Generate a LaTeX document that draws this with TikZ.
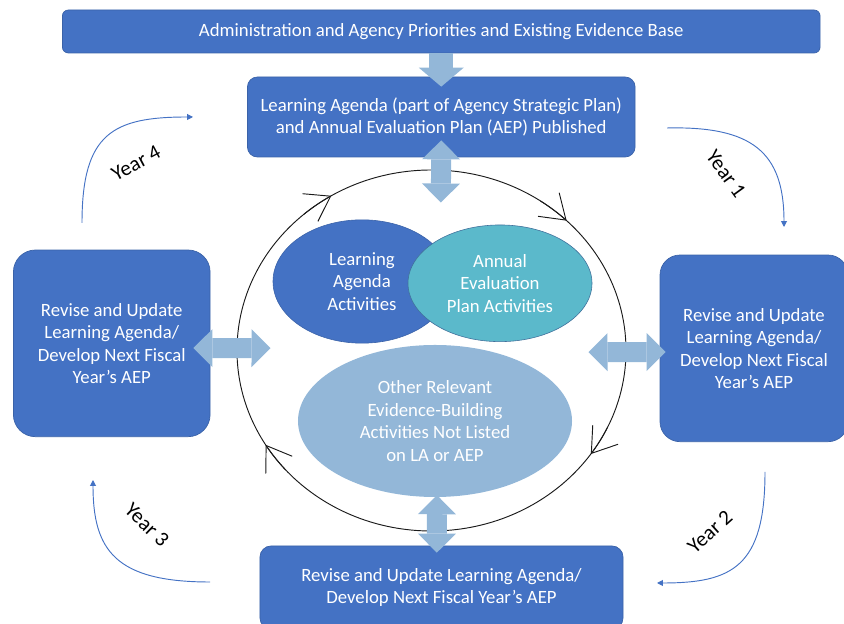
\documentclass[tikz,border=0pt]{standalone}
\usepackage{fontspec}
\setmainfont{Carlito}
\usetikzlibrary{arrows.meta, shapes.geometric}
\definecolor{planblue}{HTML}{4472C4}
\definecolor{edgeblue}{HTML}{3A62A8}
\definecolor{paleblue}{HTML}{93B7D8}
\definecolor{evalteal}{HTML}{5BB9CB}
\definecolor{tealedge}{HTML}{41719C}
\definecolor{ringgray}{HTML}{1A1A1A}

\begin{document}
\begin{tikzpicture}[
    x=0.03cm, y=0.03cm,
    font=\fontsize{16}{19.2}\selectfont,
    planbox/.style={
        draw=edgeblue, fill=planblue, text=white, line width=0.6pt,
        rounded corners=#1, align=center, inner sep=0pt,
    },
    planbox/.default=0.3cm,
    bubble/.style={
        ellipse, inner sep=0pt, align=center, text=white,
    },
    fatarr/.style={
        paleblue, line width=0.72cm,
        -{Triangle[length=0.57cm, width=1.35cm, line width=0pt]},
    },
    dblarr/.style={
        paleblue, line width=0.6cm,
        {Triangle[length=0.57cm, width=1.14cm, line width=0pt]}-{Triangle[length=0.57cm, width=1.14cm, line width=0pt]},
    },
    ringtip/.style={
        ringgray, line width=0.8pt,
        -{Straight Barb[length=0.7cm, width=0.95cm]},
    },
    yeararr/.style={planblue, line width=0.8pt, -{Triangle[length=5pt, width=5pt]}},
    yearlbl/.style={font=\fontsize{18}{20}\selectfont, text=black},
]
\useasboundingbox (0,0) rectangle (844,624);
\clip (0,0) rectangle (844,624);

% Activity cycle
\node[draw=ringgray, line width=0.8pt, ellipse, inner sep=0pt,
      minimum width=11.67cm, minimum height=10.83cm] (ring) at (431.5,273.5) {};
\foreach \t [evaluate=\t as \s using \t+10] in {121,46,-35,211.5}
    \draw[ringtip] ([shift={(\s:5.835cm and 5.415cm)}]ring.center)
        arc[start angle=\s, end angle=\t, x radius=5.835cm, y radius=5.415cm];

\node[bubble, fill=planblue, draw=edgeblue, line width=0.5pt,
      minimum width=5.34cm, minimum height=3.7cm] (la) at (362,342.5)
    {Learning\\Agenda\\Activities};
\node[bubble, fill=evalteal, draw=tealedge, line width=0.5pt,
      minimum width=5.52cm, minimum height=3.5cm] (aep) at (500,340.7)
    {Annual\\Evaluation\\Plan Activities};
\node[bubble, fill=paleblue,
      minimum width=8.22cm, minimum height=4.56cm] (other) at (435,203)
    {Other Relevant\\Evidence-Building\\Activities Not Listed\\on LA or AEP};

% Boxes
\node[planbox=0.18cm, minimum width=22.73cm, minimum height=1.29cm] (base) at (441.25,592.5)
    {Administration and Agency Priorities and Existing Evidence Base};
\node[planbox, minimum width=11.63cm, minimum height=2.4cm] (agenda) at (441.25,507)
    {Learning Agenda (part of Agency Strategic Plan)\\and Annual Evaluation Plan (AEP) Published};
\node[planbox=0.66cm, minimum width=5.9cm, minimum height=5.6cm] (revleft) at (111.75,280.65)
    {Revise and Update\\Learning Agenda/\\Develop Next Fiscal\\Year’s AEP};
\node[planbox=0.6cm, minimum width=5.64cm, minimum height=5.6cm] (revright) at (754,275.65)
    {Revise and Update\\Learning Agenda/\\Develop Next Fiscal\\Year’s AEP};
\node[planbox=0.33cm, minimum width=10.89cm, minimum height=2.49cm] (revbottom) at (441.5,36.5)
    {Revise and Update Learning Agenda/\\Develop Next Fiscal Year’s AEP};

% Block arrows
\draw[fatarr] (base.south) -- ([yshift=-0.3cm]agenda.north);
\draw[dblarr] ([yshift=0.51cm]agenda.south) -- ([xshift=0.28cm, yshift=-0.99cm]ring.north);
\draw[dblarr] ([xshift=-0.51cm, yshift=-0.14cm]revleft.east) -- ([xshift=1.02cm, yshift=0.07cm]ring.west);
\draw[dblarr] ([xshift=-1.14cm, yshift=-0.05cm]ring.east) -- ([xshift=0.18cm, yshift=-0.11cm]revright.west);
\draw[dblarr] ([xshift=0.06cm, yshift=0.06cm]other.south) -- ([xshift=-0.14cm, yshift=-0.21cm]revbottom.north);

% Year arrows
\coordinate (y4a) at (82,401);  \coordinate (y4b) at (193,507);
\coordinate (y1a) at (667,496); \coordinate (y1b) at (784,397);
\coordinate (y2a) at (765,152); \coordinate (y2b) at (657,41);
\coordinate (y3a) at (210,42);  \coordinate (y3b) at (93,144);
\draw[yeararr] (y4a) .. controls +(0,90) and +(-80,0) .. (y4b);
\draw[yeararr] (y1a) .. controls +(85,2) and +(0,75) .. (y1b);
\draw[yeararr] (y2a) .. controls +(0,-95) and +(75,0) .. (y2b);
\draw[yeararr] (y3a) .. controls +(-95,0) and +(0,-70) .. (y3b);

\node[yearlbl, rotate=28] (year4) at (136,461) {Year 4};
\node[yearlbl, rotate=-54] (year1) at (726,450) {Year 1};
\node[yearlbl, rotate=42] (year2) at (710,92) {Year 2};
\node[yearlbl, rotate=-44] (year3) at (147,99) {Year 3};

\end{tikzpicture}
\end{document}
